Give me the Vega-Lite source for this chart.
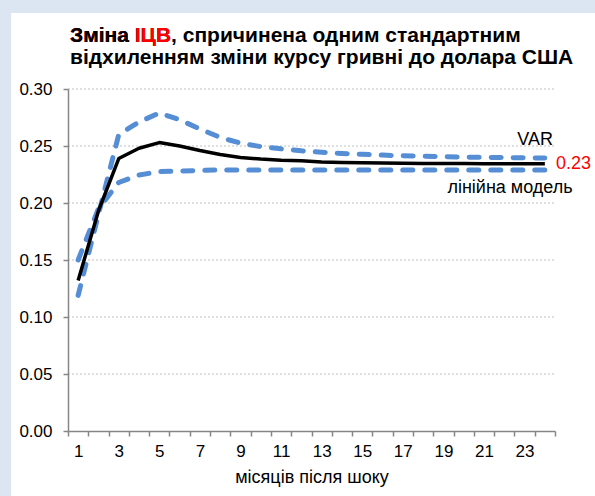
{
  "$schema": "https://vega.github.io/schema/vega-lite/v6.json",
  "width": 487,
  "height": 342,
  "autosize": {"type": "none"},
  "padding": {"left": 68, "top": 89, "right": 40, "bottom": 65},
  "background": "#dce6f2",
  "config": {"view": {"stroke": null}, "font": "Liberation Sans", "text": {"font": "Liberation Sans"}},
  "datasets": {
    "irf": [
      {"month": 1, "VAR": 0.132, "upper": 0.119, "lower": 0.150},
      {"month": 2, "VAR": 0.193, "upper": 0.190, "lower": 0.195},
      {"month": 3, "VAR": 0.239, "upper": 0.260, "lower": 0.218},
      {"month": 4, "VAR": 0.248, "upper": 0.271, "lower": 0.2245},
      {"month": 5, "VAR": 0.253, "upper": 0.279, "lower": 0.2275},
      {"month": 6, "VAR": 0.250, "upper": 0.273, "lower": 0.228},
      {"month": 7, "VAR": 0.246, "upper": 0.265, "lower": 0.2285},
      {"month": 8, "VAR": 0.2425, "upper": 0.2575, "lower": 0.229},
      {"month": 9, "VAR": 0.240, "upper": 0.2525, "lower": 0.229},
      {"month": 10, "VAR": 0.2385, "upper": 0.2495, "lower": 0.229},
      {"month": 11, "VAR": 0.2375, "upper": 0.2475, "lower": 0.229},
      {"month": 12, "VAR": 0.237, "upper": 0.2458, "lower": 0.229},
      {"month": 13, "VAR": 0.236, "upper": 0.2445, "lower": 0.229},
      {"month": 14, "VAR": 0.2355, "upper": 0.2435, "lower": 0.229},
      {"month": 15, "VAR": 0.2352, "upper": 0.2427, "lower": 0.229},
      {"month": 16, "VAR": 0.235, "upper": 0.242, "lower": 0.229},
      {"month": 17, "VAR": 0.2348, "upper": 0.2414, "lower": 0.229},
      {"month": 18, "VAR": 0.2347, "upper": 0.241, "lower": 0.229},
      {"month": 19, "VAR": 0.2346, "upper": 0.2406, "lower": 0.229},
      {"month": 20, "VAR": 0.2346, "upper": 0.2403, "lower": 0.229},
      {"month": 21, "VAR": 0.2345, "upper": 0.240, "lower": 0.229},
      {"month": 22, "VAR": 0.2345, "upper": 0.2398, "lower": 0.229},
      {"month": 23, "VAR": 0.2345, "upper": 0.2396, "lower": 0.229},
      {"month": 24, "VAR": 0.2345, "upper": 0.2395, "lower": 0.229}
    ]
  },
  "resolve": {"axis": {"x": "independent", "y": "independent"}},
  "layer": [
    {
      "data": {"values": [{"panel": "background"}]},
      "mark": {"type": "rect", "fill": "white"},
      "encoding": {
        "x": {"datum": -2.3, "type": "quantitative", "scale": {"domain": [0.5, 24.5], "nice": false, "zero": false}, "axis": null},
        "x2": {"datum": 30},
        "y": {"datum": 0.3667, "type": "quantitative", "scale": {"domain": [0, 0.3], "nice": false, "zero": false}, "axis": null},
        "y2": {"datum": -0.1}
      }
    },
    {
      "data": {"values": [{"y": 0.05}, {"y": 0.10}, {"y": 0.15}, {"y": 0.20}, {"y": 0.25}, {"y": 0.30}]},
      "mark": {"type": "rule", "color": "#c0c0c0", "strokeDash": [2, 2], "strokeWidth": 1},
      "encoding": {
        "x": {"datum": 0.5, "type": "quantitative", "axis": null},
        "x2": {"datum": 24.5},
        "y": {
          "field": "y", "type": "quantitative",
          "axis": {
            "orient": "left",
            "values": [0, 0.05, 0.1, 0.15, 0.2, 0.25, 0.3], "format": ".2f", "title": null, "grid": false,
            "labelFontSize": 17, "labelColor": "#000000", "labelPadding": 11, "labelFont": "Liberation Sans",
            "tickColor": "#868686", "tickSize": 5, "tickWidth": 1.5,
            "domainColor": "#868686", "domainWidth": 1.5, "zindex": 1
          }
        }
      }
    },
    {
      "data": {"name": "irf"},
      "transform": [{"fold": ["upper", "lower"], "as": ["band", "value"]}],
      "mark": {"type": "line", "color": "#558ed5", "strokeWidth": 5, "strokeDash": [10, 12], "strokeCap": "round", "strokeJoin": "round"},
      "encoding": {
        "x": {
          "field": "month", "type": "quantitative",
          "axis": {
            "orient": "bottom",
            "values": [1, 3, 5, 7, 9, 11, 13, 15, 17, 19, 21, 23], "ticks": false, "tickSize": 0, "domain": false, "grid": false,
            "labelFontSize": 17, "labelColor": "#000000", "labelPadding": 12, "labelFont": "Liberation Sans",
            "title": "місяців після шоку", "titleFontSize": 18, "titleFontWeight": "normal", "titleColor": "#000000",
            "titleFont": "Liberation Sans", "titlePadding": 9, "zindex": 1
          }
        },
        "y": {"field": "value", "type": "quantitative", "axis": null},
        "detail": {"field": "band"}
      }
    },
    {
      "data": {"name": "irf"},
      "mark": {"type": "line", "color": "#000000", "strokeWidth": 3.5, "strokeJoin": "round"},
      "encoding": {
        "x": {
          "field": "month", "type": "quantitative",
          "axis": {
            "orient": "bottom",
            "values": [0.5, 1.5, 2.5, 3.5, 4.5, 5.5, 6.5, 7.5, 8.5, 9.5, 10.5, 11.5, 12.5, 13.5, 14.5, 15.5, 16.5, 17.5, 18.5, 19.5, 20.5, 21.5, 22.5, 23.5, 24.5],
            "labels": false, "title": null, "grid": false,
            "tickColor": "#868686", "tickSize": 5, "tickWidth": 1.5,
            "domainColor": "#868686", "domainWidth": 1.5, "zindex": 1
          }
        },
        "y": {"field": "VAR", "type": "quantitative", "axis": null}
      }
    },
    {
      "data": {"values": [{"label": "VAR", "x": 24.4, "y": 0.2509}, {"label": "лінійна модель", "x": 25.37, "y": 0.2085}]},
      "mark": {"type": "text", "align": "right", "baseline": "alphabetic", "fontSize": 18, "color": "#000000"},
      "encoding": {
        "x": {"field": "x", "type": "quantitative", "axis": null},
        "y": {"field": "y", "type": "quantitative", "axis": null},
        "text": {"field": "label"}
      }
    },
    {
      "data": {"values": [{"label": "0.23", "x": 24.55, "y": 0.2345}]},
      "mark": {"type": "text", "align": "left", "baseline": "middle", "fontSize": 18, "color": "#ff0000"},
      "encoding": {
        "x": {"field": "x", "type": "quantitative", "axis": null},
        "y": {"field": "y", "type": "quantitative", "axis": null},
        "text": {"field": "label"}
      }
    },
    {
      "data": {"values": [
        {"label": "Зміна ІЦВ, спричинена одним стандартним", "x": 0.6, "y": 0.3415},
        {"label": "відхиленням зміни курсу гривні до долара США", "x": 0.6, "y": 0.3217}
      ]},
      "mark": {"type": "text", "align": "left", "baseline": "alphabetic", "fontSize": 21, "fontWeight": "bold", "color": "#000000"},
      "encoding": {
        "x": {"field": "x", "type": "quantitative", "axis": null},
        "y": {"field": "y", "type": "quantitative", "axis": null},
        "text": {"field": "label"}
      }
    },
    {
      "data": {"values": [{"label": "Зміна ІЦВ", "x": 0.6, "y": 0.3415}]},
      "mark": {"type": "text", "align": "left", "baseline": "alphabetic", "fontSize": 21, "fontWeight": "bold", "color": "#ff0000"},
      "encoding": {
        "x": {"field": "x", "type": "quantitative", "axis": null},
        "y": {"field": "y", "type": "quantitative", "axis": null},
        "text": {"field": "label"}
      }
    },
    {
      "data": {"values": [{"label": "Зміна", "x": 0.6, "y": 0.3415}]},
      "mark": {"type": "text", "align": "left", "baseline": "alphabetic", "fontSize": 21, "fontWeight": "bold", "color": "#000000"},
      "encoding": {
        "x": {"field": "x", "type": "quantitative", "axis": null},
        "y": {"field": "y", "type": "quantitative", "axis": null},
        "text": {"field": "label"}
      }
    }
  ]
}
